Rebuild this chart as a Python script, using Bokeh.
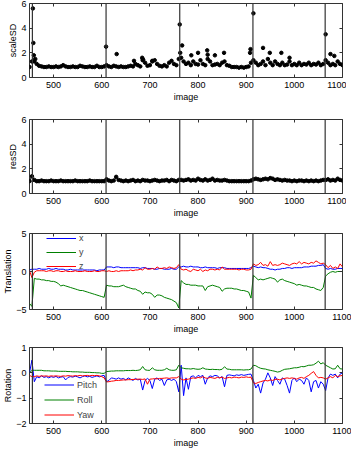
from bokeh.plotting import figure
from bokeh.models import Range1d, FixedTicker, LinearAxis, Span, Legend, LegendItem
from bokeh.layouts import column
from bokeh.embed import file_html
from bokeh.resources import INLINE

# ---------------- data ----------------
images = list(range(450, 1101, 5))
breaks = [456, 609, 762, 914, 1064]
x_ticks = [500, 600, 700, 800, 900, 1000, 1100]

scale_sd = [0.85, 1.3,
    1.3, 1.1, 0.95, 0.9, 0.85, 0.85, 0.9, 0.85, 0.85, 0.9, 0.85, 0.9, 1.0, 0.9, 0.85,
    0.85, 0.9, 0.85, 0.85, 0.95, 0.9, 0.85, 0.85, 0.9, 0.85, 0.85, 0.95, 0.85, 0.85, 0.9,
    1.0, 0.9, 0.85, 0.95, 0.9, 0.85, 0.9, 0.85, 0.85, 0.9, 0.95, 0.9, 1.1, 1.0, 0.9,
    1.4, 1.2, 0.95, 1.0, 1.3, 1.4, 1.1, 0.95, 0.9, 1.0, 0.9, 1.2, 1.35, 1.1, 1.0, 1.5,
    1.6, 1.3, 1.1, 1.2, 1.0, 1.3, 1.1, 1.05, 1.4, 1.1, 1.0, 1.5, 1.3, 1.0, 1.05,
    1.1, 1.0, 1.2, 1.3, 1.0, 0.95, 0.85, 0.85, 0.85, 0.8, 0.85, 0.8, 0.85, 0.9, 1.2,
    1.4, 1.2, 1.0, 1.1, 1.3, 1.0, 1.5, 1.2, 1.0, 1.3, 1.1, 1.0, 1.2, 1.0, 1.05,
    1.3, 1.0, 1.1, 1.0, 1.2, 1.0, 1.1, 1.05, 1.2, 1.0, 1.1, 1.05, 1.2, 1.0, 1.1,
    1.4, 1.2, 1.0, 1.1, 1.0, 1.3, 1.1, 1.0]

scale_extra_img = [457, 458, 459, 462, 609, 631, 667, 684, 686, 705, 762, 763, 767, 786, 800,
                   819, 820, 835, 854, 908, 909, 915, 935, 949, 973, 990, 1065, 1075, 1083]
scale_extra_val = [5.6, 2.8, 1.8, 1.5, 2.5, 1.9, 1.35, 1.6, 1.45, 1.35, 4.3, 2.0, 2.6, 1.8, 2.0,
                   2.2, 1.85, 1.8, 2.0, 2.0, 2.3, 5.2, 2.4, 2.0, 2.0, 1.6, 3.5, 1.9, 1.75]

res_sd = [1.0, 1.4,
    1.1, 1.0, 1.0, 1.05, 1.0, 1.0, 1.0, 1.05, 1.0, 1.0, 1.0, 1.05, 1.0, 1.0, 1.0,
    1.0, 1.0, 1.05, 1.0, 1.0, 1.0, 1.0, 1.0, 1.05, 1.0, 1.0, 1.0, 1.0, 1.0, 1.0,
    1.15, 1.05, 1.0, 1.05, 1.35, 1.1, 1.05, 1.0, 1.05, 1.0, 1.05, 1.1, 1.0, 1.05, 1.0,
    1.1, 1.05, 1.05, 1.0, 1.05, 1.1, 1.05, 1.0, 1.05, 1.05, 1.1, 1.0, 1.1, 1.05, 1.0, 1.1,
    1.1, 1.05, 1.1, 1.15, 1.05, 1.1, 1.05, 1.2, 1.1, 1.05, 1.15, 1.05, 1.1, 1.2, 1.05,
    1.1, 1.05, 1.05, 1.1, 1.05, 1.0, 1.0, 1.0, 1.0, 1.0, 1.0, 1.0, 1.0, 1.0, 1.05,
    1.15, 1.2, 1.15, 1.1, 1.15, 1.2, 1.15, 1.25, 1.2, 1.1, 1.15, 1.1, 1.05, 1.1, 1.05,
    1.05, 1.0, 1.05, 1.0, 1.05, 1.05, 1.0, 1.05, 1.0, 1.05, 1.0, 1.05, 1.0, 1.05, 1.1,
    1.1, 1.15, 1.05, 1.1, 1.05, 1.2, 1.1, 1.05]

trans_x = [0.2, 0.3,
    0.3, 0.3, 0.4, 0.3, 0.3, 0.3, 0.4, 0.3, 0.3, 0.4, 0.3, 0.3, 0.3, 0.2, 0.2,
    0.3, 0.2, 0.2, 0.2, 0.2, 0.2, 0.2, 0.2, 0.2, 0.2, 0.2, 0.1, 0.2, 0.2, 0.2,
    0.6, 0.6, 0.6, 0.5, 0.6, 0.6, 0.5, 0.5, 0.5, 0.5, 0.5, 0.5, 0.5, 0.5, 0.4,
    0.5, 0.5, 0.4, 0.4, 0.4, 0.3, 0.3, 0.4, 0.4, 0.3, 0.3, 0.3, 0.4, 0.3, 0.3, 0.6,
    0.6, 0.7, 0.6, 0.6, 0.7, 0.6, 0.6, 0.6, 0.5, 0.5, 0.6, 0.5, 0.5, 0.5, 0.5,
    0.4, 0.5, 0.5, 0.5, 0.4, 0.4, 0.4, 0.4, 0.4, 0.4, 0.4, 0.4, 0.4, 0.4, 0.5,
    0.7, 0.6, 0.5, 0.6, 0.5, 0.5, 0.4, 0.3, 0.3, 0.2, 0.3, 0.3, 0.4, 0.4, 0.5,
    0.5, 0.4, 0.5, 0.5, 0.5, 0.5, 0.6, 0.6, 0.6, 0.7, 0.7, 0.7, 0.8, 0.8, 0.9,
    0.4, 0.3, 0.4, 0.3, 0.3, 0.4, 0.4, 0.4]

trans_y = [-4.2, -4.6,
    -0.9, -1.0, -1.0, -1.1, -1.1, -1.2, -1.2, -1.3, -1.3, -1.4, -1.6, -1.9, -1.8, -1.9, -2.0,
    -2.1, -2.2, -2.3, -2.4, -2.5, -2.5, -2.6, -2.7, -2.8, -2.9, -3.0, -3.1, -3.2, -3.3, -3.4,
    -1.8, -1.9, -1.9, -2.0, -2.0, -2.0, -1.9, -1.8, -2.0, -2.1, -2.2, -2.3, -2.3, -2.5, -2.6,
    -3.0, -2.7, -2.8, -2.8, -3.0, -3.4, -3.1, -3.1, -3.2, -3.4, -3.5, -3.6, -3.7, -3.9, -4.1, -4.8,
    -1.2, -1.5, -1.7, -1.7, -1.8, -1.8, -1.8, -1.9, -1.9, -1.9, -2.5, -2.0, -1.9, -1.8, -1.9,
    -2.0, -2.1, -2.6, -2.3, -2.2, -2.2, -2.2, -2.3, -2.3, -2.4, -2.5, -2.5, -2.6, -2.7, -3.5,
    -0.5, -0.8, -1.1, -1.0, -1.1, -1.0, -0.9, -0.8, -0.9, -1.0, -1.4, -1.1, -1.0, -1.2, -1.3,
    -1.4, -1.5, -1.6, -1.8, -1.7, -1.8, -1.9, -1.9, -2.0, -2.1, -2.1, -2.3, -2.4, -2.5, -2.1,
    -0.6, -0.3, -0.1, 0.0, -0.1, 0.0, 0.0, 0.0]

trans_z = [0.1, -0.8,
    -0.1, 0.1, 0.1, 0.1, 0.1, 0.0, 0.1, 0.1, 0.0, 0.1, 0.1, 0.0, 0.0, 0.1, 0.0,
    0.0, 0.0, 0.1, 0.0, 0.0, 0.0, 0.1, 0.0, 0.0, 0.0, 0.1, 0.0, 0.0, 0.1, 0.1,
    0.0, 0.1, 0.0, 0.0, 0.1, 0.0, 0.1, 0.1, 0.1, 0.1, 0.2, 0.1, 0.2, 0.2, 0.3,
    0.2, 0.5, 0.3, 0.3, 0.4, 0.3, 0.6, 0.4, 0.4, 0.5, 0.4, 0.6, 0.5, 0.4, 0.5, 0.9,
    0.3, 0.2, 0.3, 0.1, 0.0, 0.3, 0.2, 0.1, 0.3, 0.0, 0.2, 0.1, 0.3, 0.3, 0.2,
    0.3, 0.2, 0.6, 0.3, 0.3, 0.3, 0.3, 0.3, 0.3, 0.2, 0.3, 0.3, 0.2, 0.2, 0.3,
    1.0, 0.8, 0.9, 1.2, 0.8, 0.9, 0.7, 1.3, 0.8, 0.9, 0.8, 0.9, 1.1, 1.0, 0.9,
    0.8, 1.0, 1.1, 1.0, 1.3, 1.0, 1.2, 1.1, 1.0, 1.2, 1.1, 1.4, 1.2, 1.0, 1.1,
    0.9, 0.5, 0.8, 0.4, 0.6, 0.4, 1.0, 0.6]

rot_pitch = [0.0, 0.5,
    -0.35, -0.15, -0.2, -0.12, -0.18, -0.15, -0.2, -0.15, -0.18, -0.14, -0.2, -0.17, -0.15, -0.28, -0.18,
    -0.15, -0.17, -0.13, -0.16, -0.2, -0.15, -0.12, -0.16, -0.14, -0.18, -0.15, -0.12, -0.16, -0.12, -0.1,
    -0.35, -0.3, -0.2, -0.22, -0.25, -0.2, -0.25, -0.22, -0.28, -0.2, -0.25, -0.3, -0.22, -0.28, -0.25,
    -0.68, -0.3, -0.22, -0.3, -0.62, -0.25, -0.2, -0.3, -0.25, -0.5, -0.28, -0.25, -0.3, -0.25, -0.35, -0.75,
    0.3, -0.9, -0.2, -0.65, -0.15, -0.12, -0.2, -0.1, -0.15, -0.1, -0.45, -0.2, -0.12, -0.15, -0.1,
    -0.12, -0.2, -0.15, -0.55, -0.1, -0.08, -0.1, -0.12, -0.08, -0.1, -0.07, -0.1, -0.08, -0.06, -0.05,
    -0.3, -0.6, -0.45, -0.8, -0.4, -0.25, 0.0, -0.2, -0.5, -0.15, -0.3, -0.45, -0.2, -0.25, -0.5,
    -0.8, -0.3, -0.2, -0.35, -0.25, -0.3, -0.45, -0.2, -0.3, -0.75, -0.35, -0.3, -0.6, -0.35, -0.45,
    -0.7, -0.2, -0.05, -0.1, -0.05, -0.2, -0.05, 0.0]

rot_roll = [0.0, 0.1,
    0.1, 0.1, 0.1, 0.1, 0.08, 0.08, 0.08, 0.07, 0.07, 0.07, 0.06, 0.06, 0.06, 0.06, 0.05,
    0.05, 0.04, 0.04, 0.04, 0.03, 0.03, 0.02, 0.02, 0.02, 0.01, 0.01, 0.0, 0.0, -0.02, -0.02,
    0.05, 0.06, 0.07, 0.07, 0.08, 0.08, 0.08, 0.08, 0.09, 0.09, 0.09, 0.1, 0.09, 0.1, 0.12,
    0.25, 0.12, 0.1, 0.1, 0.2, 0.12, 0.1, 0.1, 0.1, 0.12, 0.18, 0.12, 0.1, 0.1, 0.12, 0.3,
    0.2, 0.18, 0.16, 0.16, 0.15, 0.17, 0.15, 0.14, 0.15, 0.2, 0.15, 0.14, 0.13, 0.14, 0.13,
    0.13, 0.12, 0.14, 0.24, 0.15, 0.14, 0.12, 0.12, 0.12, 0.12, 0.12, 0.11, 0.12, 0.12, 0.15,
    0.3, 0.28, 0.22, 0.18, 0.16, 0.15, 0.12, 0.1, 0.08, 0.06, 0.03, 0.05, 0.1, 0.14, 0.15,
    0.16, 0.18, 0.2, 0.2, 0.22, 0.25, 0.24, 0.27, 0.3, 0.3, 0.32, 0.38, 0.46, 0.35, 0.4,
    0.3, 0.25, 0.2, 0.15, 0.16, 0.3, 0.16, 0.15]

rot_yaw = [-0.1, -0.15,
    -0.15, -0.12, -0.14, -0.12, -0.13, -0.12, -0.14, -0.12, -0.13, -0.12, -0.13, -0.14, -0.12, -0.13, -0.11,
    -0.12, -0.13, -0.11, -0.12, -0.1, -0.12, -0.11, -0.1, -0.12, -0.1, -0.11, -0.1, -0.12, -0.15, -0.2,
    -0.36, -0.35, -0.33, -0.32, -0.3, -0.3, -0.29, -0.28, -0.28, -0.27, -0.27, -0.26, -0.26, -0.25, -0.25,
    -0.26, -0.24, -0.45, -0.25, -0.24, -0.23, -0.24, -0.22, -0.22, -0.21, -0.2, -0.22, -0.2, -0.2, -0.2, -0.15,
    -0.25, -0.28, -0.26, -0.25, -0.22, -0.2, -0.22, -0.18, -0.2, -0.15, -0.2, -0.22, -0.18, -0.2, -0.22,
    -0.18, -0.2, -0.17, -0.22, -0.2, -0.18, -0.2, -0.17, -0.18, -0.2, -0.17, -0.18, -0.16, -0.18, -0.17,
    -0.4, -0.42, -0.38, -0.35, -0.32, -0.3, -0.32, -0.28, -0.3, -0.26, -0.25, -0.28, -0.24, -0.22, -0.2,
    -0.22, -0.2, -0.22, -0.25, -0.2, -0.18, -0.22, -0.15, -0.1, -0.02, 0.05, -0.1, -0.2, -0.18, -0.2,
    -0.25, -0.2, -0.15, -0.2, -0.1, -0.15, -0.12, -0.1]

for name, arr in [("scale_sd", scale_sd), ("res_sd", res_sd), ("trans_x", trans_x),
                  ("trans_y", trans_y), ("trans_z", trans_z), ("rot_pitch", rot_pitch),
                  ("rot_roll", rot_roll), ("rot_yaw", rot_yaw)]:
    assert len(arr) == len(images), (name, len(arr), len(images))

# ---------------- styling ----------------
FONT = "Liberation Sans"
FS = "9px"
FRAME = "#333333"
BLUE, GREEN, RED = "#0000ff", "#008000", "#ff0000"


def make_fig(ylabel, y0, y1, yticks, top, frame_h, bottom):
    p = figure(frame_width=313, frame_height=frame_h,
               x_range=Range1d(450, 1100), y_range=Range1d(y0, y1),
               output_backend="svg", toolbar_location=None,
               min_border_left=22, min_border_right=9,
               min_border_top=top, min_border_bottom=bottom)
    p.xgrid.visible = False
    p.ygrid.visible = False
    p.outline_line_color = FRAME
    p.outline_line_alpha = 1.0
    p.outline_line_width = 1
    p.background_fill_color = "white"
    p.border_fill_color = "white"

    xt = FixedTicker(ticks=x_ticks, minor_ticks=[])
    yt = FixedTicker(ticks=yticks, minor_ticks=[])

    for ax, tk in ((p.xaxis[0], xt), (p.yaxis[0], yt)):
        ax.ticker = tk
        ax.major_tick_in = 3
        ax.major_tick_out = 0
        ax.minor_tick_in = 0
        ax.minor_tick_out = 0
        ax.major_tick_line_color = FRAME
        ax.axis_line_color = None
        ax.major_label_text_font = FONT
        ax.major_label_text_font_size = FS
        ax.major_label_text_color = "black"
        ax.axis_label_text_font = FONT
        ax.axis_label_text_font_size = FS
        ax.axis_label_text_font_style = "normal"
        ax.axis_label_text_color = "black"
    p.xaxis[0].axis_label = "image"
    p.xaxis[0].major_label_standoff = 4
    p.xaxis[0].axis_label_standoff = 1
    p.yaxis[0].axis_label = ylabel
    p.yaxis[0].major_label_standoff = 3
    p.yaxis[0].axis_label_standoff = 0

    for loc, tk in (("above", xt), ("right", yt)):
        ax = LinearAxis(ticker=tk, major_label_text_font_size="1px", major_label_standoff=0,
                        major_label_text_color=None,
                        major_tick_in=3, major_tick_out=0, minor_tick_in=0, minor_tick_out=0,
                        axis_line_color=None, major_tick_line_color=FRAME)
        p.add_layout(ax, loc)

    for b in breaks:
        p.add_layout(Span(location=b, dimension="height", line_color=FRAME, line_width=1.2))
    return p


# panel 1: scaleSD
p1 = make_fig("scaleSD", 0, 6, [0, 2, 4, 6], 3, 74, 37)
p1.scatter(images, scale_sd, marker="circle", size=3.5, color="black")
p1.scatter(scale_extra_img, scale_extra_val, marker="circle", size=3.5, color="black")

# panel 2: resSD
p2 = make_fig("resSD", 0, 6, [0, 2, 4, 6], 5, 74, 35)
p2.line(images, res_sd, color="black", line_width=1)
p2.scatter(images, res_sd, marker="circle", size=3.5, color="black")

# panel 3: translation
p3 = make_fig("Translation", -5, 5, [-5, 0, 5], 5, 76, 33)
r_x = p3.line(images, trans_x, color=BLUE, line_width=1)
r_y = p3.line(images, trans_y, color=GREEN, line_width=1)
r_z = p3.line(images, trans_z, color=RED, line_width=1)
leg3 = Legend(items=[LegendItem(label="x", renderers=[r_x]),
                     LegendItem(label="y", renderers=[r_y]),
                     LegendItem(label="z", renderers=[r_z])],
              location=(17, 37), background_fill_alpha=0, border_line_alpha=0,
              glyph_width=30, glyph_height=12, label_height=12, spacing=2,
              padding=0, margin=0, label_standoff=3,
              label_text_font=FONT, label_text_font_size=FS)
p3.add_layout(leg3)

# panel 4: rotation
p4 = make_fig("Rotation", -2, 1, [-2, -1, 0, 1], 5, 76, 33)
r_p = p4.line(images, rot_pitch, color=BLUE, line_width=1)
r_r = p4.line(images, rot_roll, color=GREEN, line_width=1)
r_w = p4.line(images, rot_yaw, color=RED, line_width=1)
leg4 = Legend(items=[LegendItem(label="Pitch", renderers=[r_p]),
                     LegendItem(label="Roll", renderers=[r_r]),
                     LegendItem(label="Yaw", renderers=[r_w])],
              location=(15, 2), background_fill_alpha=0, border_line_alpha=0,
              glyph_width=30, glyph_height=13, label_height=13, spacing=2,
              padding=0, margin=0, label_standoff=3,
              label_text_font=FONT, label_text_font_size=FS)
p4.add_layout(leg4)

layout = column(p1, p2, p3, p4, spacing=0)
open("out.html", "w").write(file_html(layout, INLINE))
